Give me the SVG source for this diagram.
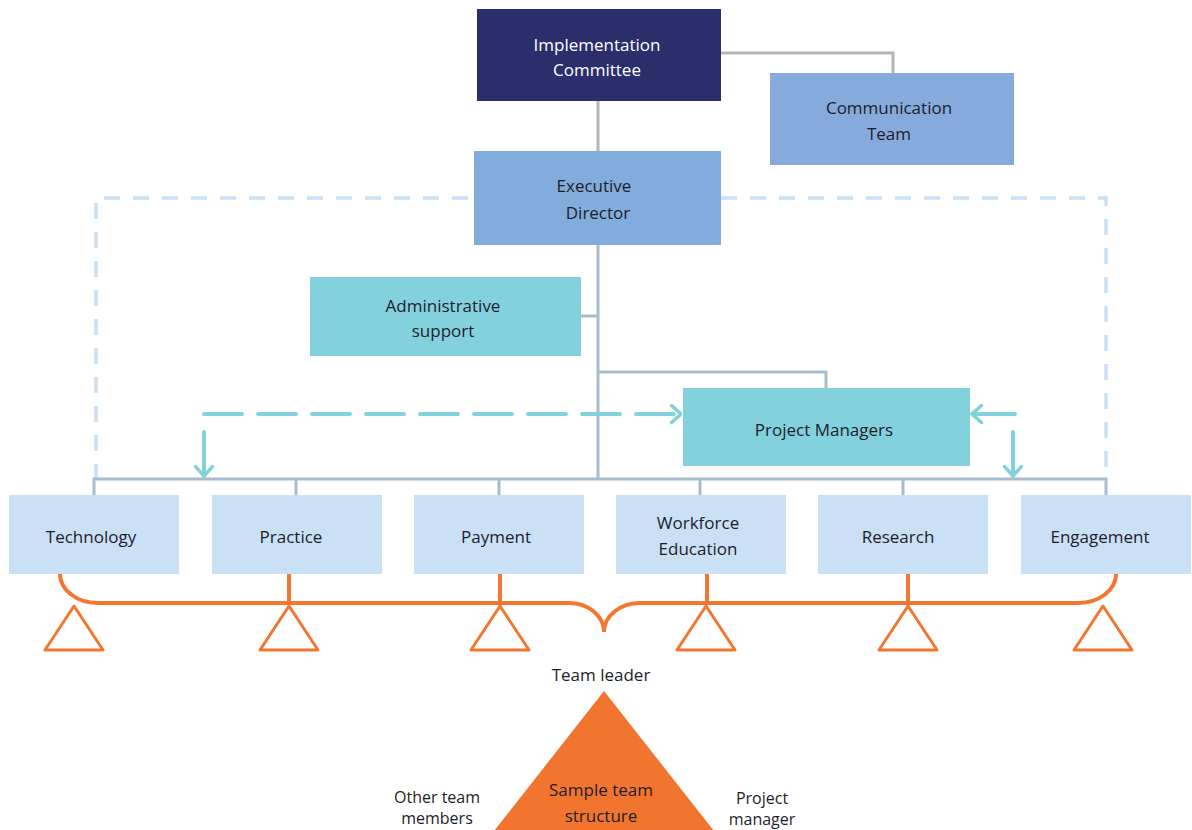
<svg xmlns="http://www.w3.org/2000/svg" width="1192" height="830" viewBox="0 0 1192 830">
<defs>
<style>
text{font-family:"Open Sans","Noto Sans","Liberation Sans",sans-serif;font-size:17px;fill:#1d1d2b;text-anchor:middle}
.w{fill:#ffffff}
.s{font-size:16px}
.gray{stroke:#b5b5b5;stroke-width:3;fill:none}
.tree{stroke:#a8bccd;stroke-width:3;fill:none}
.teal{stroke:#84d1de;stroke-width:4;fill:none;stroke-linecap:round}
.orange{stroke:#f37631;stroke-width:4;fill:none}
.tri{stroke:#f37631;stroke-width:3;fill:#ffffff;stroke-linejoin:round}
.unit{fill:#c9e0f5}
.mid{fill:#84d1de}
</style>
<marker id="ah" viewBox="0 0 12 20" refX="11" refY="10" markerWidth="12" markerHeight="20" markerUnits="userSpaceOnUse" orient="auto">
<path d="M1,1 L11,10 L1,19" fill="none" stroke="#84d1de" stroke-width="3.5" stroke-linecap="round" stroke-linejoin="round"/>
</marker>
</defs>
<g id="connectors">
<path class="gray" d="M721,53 H893 V73"/>
<path class="gray" d="M598,101 V151"/>
<path d="M96,480 V198 H474 M721,198 H1106 V480" fill="none" stroke="#c9e0f5" stroke-width="3.5" stroke-dasharray="16 13"/>
<path class="tree" d="M598,245 V479"/>
<path class="tree" d="M581,316 H598"/>
<path class="tree" d="M598,372 H826 V388"/>
<path class="tree" d="M94,495 V479 H1106 V495 M296,479 V495 M499,479 V495 M700,479 V495 M903,479 V495"/>
<path class="teal" d="M204,414 H681" stroke-dasharray="38 16" marker-end="url(#ah)"/>
<path class="teal" d="M204,432 V476" marker-end="url(#ah)"/>
<path class="teal" d="M1015,414 H972" marker-end="url(#ah)"/>
<path class="teal" d="M1013,432 V476" marker-end="url(#ah)"/>
<path class="orange" d="M60,574 A38,29 0 0 0 98,603 H569 A35,29 0 0 1 604,632 A36,29 0 0 1 640,603 H1078 A38,29 0 0 0 1116,574"/>
<path class="orange" d="M289,574 V603 M500,574 V603 M707,574 V603 M908,574 V603"/>
</g>
<g id="implementation-committee">
<rect x="477" y="9" width="244" height="92" fill="#2a2f6b"/>
<text class="w" x="597" y="51">Implementation</text>
<text class="w" x="597" y="76">Committee</text>
</g>
<g id="communication-team">
<rect x="770" y="73" width="244" height="92" fill="#86aadb"/>
<text x="889" y="114">Communication</text>
<text x="889" y="140">Team</text>
</g>
<g id="executive-director">
<rect x="474" y="151" width="247" height="94" fill="#82acdc"/>
<text x="594" y="192">Executive</text>
<text x="598" y="219">Director</text>
</g>
<g id="administrative-support">
<rect class="mid" x="310" y="277" width="271" height="79"/>
<text x="443" y="312">Administrative</text>
<text x="443" y="337">support</text>
</g>
<g id="project-managers">
<rect class="mid" x="683" y="388" width="287" height="78"/>
<text x="824" y="436">Project Managers</text>
</g>
<g id="technology">
<rect class="unit" x="9" y="495" width="170" height="79"/>
<text x="91" y="543">Technology</text>
</g>
<g id="practice">
<rect class="unit" x="212" y="495" width="170" height="79"/>
<text x="291" y="543">Practice</text>
</g>
<g id="payment">
<rect class="unit" x="414" y="495" width="170" height="79"/>
<text x="496" y="543">Payment</text>
</g>
<g id="workforce-education">
<rect class="unit" x="616" y="495" width="170" height="79"/>
<text x="698" y="529">Workforce</text>
<text x="698" y="555">Education</text>
</g>
<g id="research">
<rect class="unit" x="818" y="495" width="170" height="79"/>
<text x="898" y="543">Research</text>
</g>
<g id="engagement">
<rect class="unit" x="1021" y="495" width="170" height="79"/>
<text x="1100" y="543">Engagement</text>
</g>
<g id="team-triangles">
<path class="tri" d="M74,606 L103,650 L45,650 Z"/>
<path class="tri" d="M289,606 L318,650 L260,650 Z"/>
<path class="tri" d="M500,606 L529,650 L471,650 Z"/>
<path class="tri" d="M706,606 L735,650 L677,650 Z"/>
<path class="tri" d="M908,606 L937,650 L879,650 Z"/>
<path class="tri" d="M1103,606 L1132,650 L1074,650 Z"/>
</g>
<g id="sample-team-structure">
<path d="M604,691 L714,831 L494,831 Z" fill="#f1752f"/>
<text x="601" y="681">Team leader</text>
<text x="601" y="796">Sample team</text>
<text x="601" y="822">structure</text>
<text class="s" x="437" y="803">Other team</text>
<text class="s" x="437" y="824">members</text>
<text class="s" x="762" y="804">Project</text>
<text class="s" x="762" y="825">manager</text>
</g>
</svg>
